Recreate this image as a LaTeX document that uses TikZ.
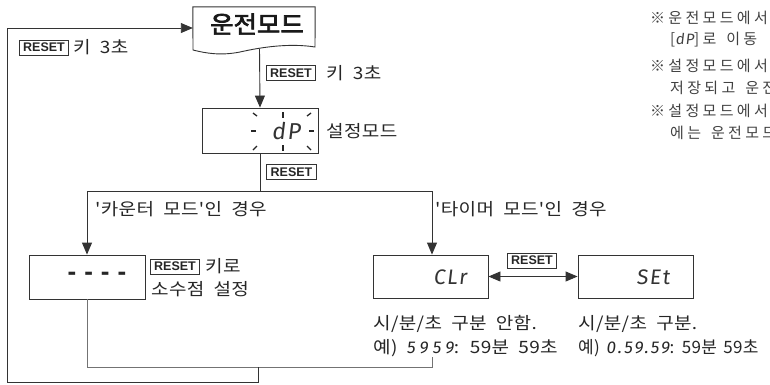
\documentclass[tikz,border=0pt]{standalone}
\usepackage{fontspec}
\setmainfont{Noto Sans CJK KR}
\newfontfamily\kr{Noto Sans CJK KR}[WordSpace=2,LetterSpace=2,FakeStretch=1.12,Ligatures=TeXOff]
\newfontfamily\krs{Noto Sans CJK KR}[WordSpace=1.5,LetterSpace=2,Ligatures=TeXOff]
\newfontfamily\krb{Noto Sans CJK KR}[FakeBold=3,FakeStretch=1.06]
\newfontfamily\krnote{Noto Sans CJK KR}[LetterSpace=22,WordSpace=1.5]
\newfontfamily\rst{Liberation Sans}
\newfontfamily\seg{Fira Sans}[FakeSlant=0.12,LetterSpace=8]
\newfontfamily\segA{Fira Sans}[FakeSlant=0.12,LetterSpace=25]
\newfontfamily\segB{Fira Sans}[FakeSlant=0.12,LetterSpace=12]
\usetikzlibrary{arrows.meta}
\begin{document}
\begin{tikzpicture}[x=1pt,y=-1pt,
  ln/.style={draw=black!80,line width=0.9pt},
  arr/.style={ln,-{Triangle[length=12pt,width=10pt]}},
  darr/.style={ln,{Triangle[length=12pt,width=10pt]}-{Triangle[length=12pt,width=10pt]}},
  disp/.style={draw=black!80,line width=0.9pt,fill=white,inner sep=0pt},
  rbox/.style={draw=black!80,line width=0.8pt,fill=white,font=\rst\bfseries\fontsize{12.5}{12.5}\selectfont,inner xsep=4pt,inner ysep=0pt,minimum height=15pt,text=black!85},
  lbl/.style={font=\kr\fontsize{17}{17}\selectfont,inner sep=0pt,anchor=west,text=black!85},
  note/.style={font=\krnote\fontsize{15}{15}\selectfont,inner sep=0pt,anchor=west,text=black!75},
  segtxt/.style={font=\seg\fontsize{21}{21}\selectfont,inner sep=0pt,text=black!80},
  tick/.style={draw=black!85,line width=1.3pt}
]
\clip (0,0) rectangle (770,384);
% operation mode (document shape)
\node[minimum width=122pt,minimum height=42pt,inner sep=0pt] (op) at (254,28) {};
\draw[ln,fill=white] (op.north west) -- (op.north east) -- (315,47) .. controls (290,43) and (262,47) .. (240,52) .. controls (220,56) and (205,53) .. (193,50) -- cycle;
\node[font=\krb\fontsize{24}{24}\selectfont,text=black!90,inner sep=0pt] (optxt) at (257,24) {운전모드};
\coordinate (opb) at (259.5,48.5);
% dP box
\node[disp,minimum width=116pt,minimum height=45pt] (dp) at (260,130.5) {};
\node[segtxt,font=\seg\fontsize{23}{23}\selectfont] (dptxt) at (286,131) {dP};
\draw[tick] (253,113) -- (257,116);
\draw[tick] (283,112) -- (283,118);
\draw[tick] (311,113) -- (307,116);
\draw[tick] (251,131) -- (256,131);
\draw[tick] (309,131) -- (314,131);
\draw[tick] (253,150) -- (257,146);
\draw[tick] (283,145) -- (283,151);
\draw[tick] (311,150) -- (307,146);
\draw[arr] (opb) -- (dp.north);
\node[lbl] (setlbl) at (326,131) {설정모드};
\node[rbox] (r2) at (291,73) {RESET};
\node[lbl] (r2t) at (326,73) {키 3초};
\node[rbox] (r1) at (44,47.5) {RESET};
\node[lbl] (r1t) at (73,47.5) {키 3초};
\node[rbox] (r3) at (291.5,172) {RESET};
% branch
\coordinate (br) at (260,191);
\coordinate (bl) at (87,191);
\coordinate (bri) at (432,191);
\draw[ln] (dp.south) -- (br);
\draw[ln] (bl) -- (bri);
\node[disp,minimum width=116pt,minimum height=44pt] (cnt) at (87,277) {};
\node[disp,minimum width=115pt,minimum height=43pt] (clr) at (430.5,276.5) {};
\node[disp,minimum width=115pt,minimum height=43pt] (set) at (635.5,276.5) {};
\draw[arr] (bl) -- (cnt.north);
\draw[arr] (bri) -- (bri |- clr.north);
\node[lbl] (lc) at (95,209) {'카운터 모드'인 경우};
\node[lbl] (lt) at (435,209) {'타이머 모드'인 경우};
% counter
\node[font=\rst\bfseries\fontsize{26}{26}\selectfont,inner sep=0pt,text=black!85] (cnttxt) at (97,276) {-\hspace{8pt}-\hspace{8pt}-\hspace{8pt}-};
\node[rbox] (r4) at (175,266.5) {RESET};
\node[lbl] (r4t) at (205,266.5) {키로};
\node[lbl] (r4s) at (151,289) {소수점 설정};
% timer
\node[segtxt] (clrtxt) at (450,277) {CLr};
\node[segtxt] (settxt) at (653,277) {SEt};
\draw[darr] (clr.east) -- (set.west);
\node[rbox] (r5) at (532,260.5) {RESET};
\node[lbl] (c1) at (373,324) {시/분/초 구분 안함.};
\node[lbl] (c2) at (373,348) {예) {\segA\fontsize{17}{17}\selectfont 5959}: 59분 59초};
\node[lbl] (s1) at (578,324) {시/분/초 구분.};
\node[lbl,font=\krs\fontsize{17}{17}\selectfont] (s2) at (578,348) {예) {\segB\fontsize{17}{17}\selectfont 0.59.59}: 59분 59초};
% return lines
\coordinate (ib) at (432,357);
\coordinate (i1) at (87,367);
\coordinate (i2) at (432,367);
\draw[ln,draw=black!55] (cnt.south) -- (i1) -- (i2) -- (ib);
\coordinate (o1) at (258,367);
\coordinate (o2) at (258,382);
\coordinate (o3) at (7,382);
\coordinate (o4) at (7,28);
\draw[arr] (o1) -- (o2) -- (o3) -- (o4) -- (o4 -| op.west);
% notes
\node[note] (n1) at (650,18) {※운전모드에서};
\node[note] (n2) at (670,40) {[{\seg dP}]로 이동};
\node[note] (n3) at (650,66) {※설정모드에서};
\node[note] (n4) at (670,88) {저장되고 운전};
\node[note] (n5) at (650,111) {※설정모드에서};
\node[note] (n6) at (670,133) {에는 운전모드};
\end{tikzpicture}
\end{document}
